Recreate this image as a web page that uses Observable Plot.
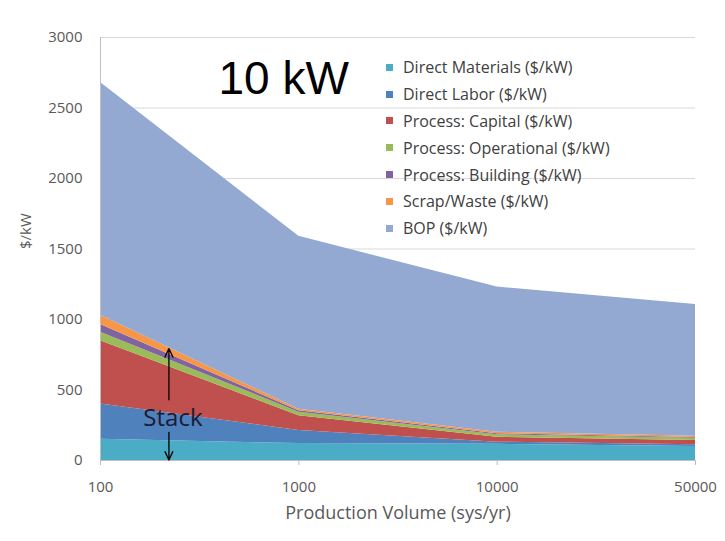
<!DOCTYPE html>
<html>
<head>
<meta charset="utf-8">
<script src="https://cdn.jsdelivr.net/npm/d3@7"></script>
<script src="https://cdn.jsdelivr.net/npm/@observablehq/plot@0.6"></script>
<style>
  html, body { margin: 0; padding: 0; background: #fff; }
  #wrap { position: relative; width: 725px; height: 541px; overflow: hidden; }
  #legend { position: absolute; left: 386px; top: 54px; font-family: "Open Sans", sans-serif; font-size: 16px; color: #404040; }
  .row { height: 26.8px; display: flex; align-items: center; white-space: nowrap; }
  .sw { width: 7px; height: 7px; margin-right: 10px; flex: none; }
</style>
</head>
<body>
<div id="wrap"><div id="legend"></div></div>
<script>
// ---- data ----
const volumes = ["100", "1000", "10000", "50000"];
const seriesNames = [
  "Direct Materials ($/kW)",
  "Direct Labor ($/kW)",
  "Process: Capital ($/kW)",
  "Process: Operational ($/kW)",
  "Process: Building ($/kW)",
  "Scrap/Waste ($/kW)",
  "BOP ($/kW)"
];
const seriesColors = ["#4BACC6", "#4F81BD", "#C0504D", "#9BBB59", "#8064A2", "#F79646", "#93A9D1"];
const directMaterials    = [150, 120, 115, 100];
const directLabor        = [250,  93,  15,  12];
const processCapital     = [450, 105,  35,  30];
const processOperational = [ 60,  25,  17,  16];
const processBuilding    = [ 55,  10,   8,   6];
const scrapWaste         = [ 65,  10,  10,   8];
const bop                = [1650, 1227, 1030, 934];
const yTicks = [0, 500, 1000, 1500, 2000, 2500, 3000];
const titleText = "10 kW";
const xLabel = "Production Volume (sys/yr)";
const yLabel = "$/kW";
const stackNote = [{x: 0.345, text: "Stack", y: 298, upFrom: 431, upTo: 794, downFrom: 199, downTo: 4}];

const seriesValues = [directMaterials, directLabor, processCapital, processOperational, processBuilding, scrapWaste, bop];
const data = seriesNames.flatMap((s, si) =>
  volumes.map((v, i) => ({idx: i, volume: v, series: s, value: seriesValues[si][i]})));

const font = "'Open Sans', sans-serif";

const chart = Plot.plot({
  width: 725,
  height: 541,
  marginLeft: 100,
  marginRight: 30,
  marginTop: 37,
  marginBottom: 81,
  style: {fontFamily: font, background: "#fff"},
  x: {domain: [0, 3], label: null},
  y: {domain: [0, 3000], label: null},
  color: {domain: seriesNames, range: seriesColors},
  marks: [
    Plot.gridY(yTicks, {stroke: "#D9D9D9", strokeOpacity: 1}),
    Plot.areaY(data, {x: "idx", y: "value", fill: "series", z: "series", fillOpacity: 1}),
    Plot.ruleX([0], {stroke: "#BFBFBF"}),
    Plot.ruleY([0], {stroke: "#BFBFBF"}),
    Plot.axisY({ticks: yTicks, tickFormat: d => String(d), tickSize: 0, tickPadding: 18, fontSize: 15, fill: "#595959", label: null}),
    Plot.axisX({ticks: [0, 1, 2, 3], tickFormat: i => volumes[i], tickSize: 5, tickPadding: 16,
      stroke: "#BFBFBF", fill: "#595959", fontSize: 15, label: null}),
    Plot.text([xLabel], {frameAnchor: "bottom", dy: 58, fontSize: 18, fill: "#595959", text: d => d}),
    Plot.text([yLabel], {frameAnchor: "left", dx: -74, rotate: -90, fontSize: 15, fill: "#595959", text: d => d}),
    Plot.text([titleText], {frameAnchor: "top-left", dx: 118, dy: 56, lineAnchor: "bottom", textAnchor: "start",
      fontSize: 46, fontFamily: "'Liberation Sans', Arial, sans-serif", fill: "#000", text: d => d}),
    Plot.arrow(stackNote, {x1: "x", x2: "x", y1: "upFrom", y2: "upTo", stroke: "#000", strokeWidth: 1.3, headLength: 11, headAngle: 50}),
    Plot.arrow(stackNote, {x1: "x", x2: "x", y1: "downFrom", y2: "downTo", stroke: "#000", strokeWidth: 1.3, headLength: 11, headAngle: 50}),
    Plot.text(stackNote, {x: "x", y: "y", text: "text", fontSize: 24, fill: "#1B1B33", dx: 4})
  ]
});
document.getElementById("wrap").prepend(chart);

const legend = document.getElementById("legend");
seriesNames.forEach((s, i) => {
  const row = document.createElement("div");
  row.className = "row";
  const sw = document.createElement("span");
  sw.className = "sw";
  sw.style.background = seriesColors[i];
  const t = document.createElement("span");
  t.textContent = s;
  row.append(sw, t);
  legend.append(row);
});
</script>
</body>
</html>
